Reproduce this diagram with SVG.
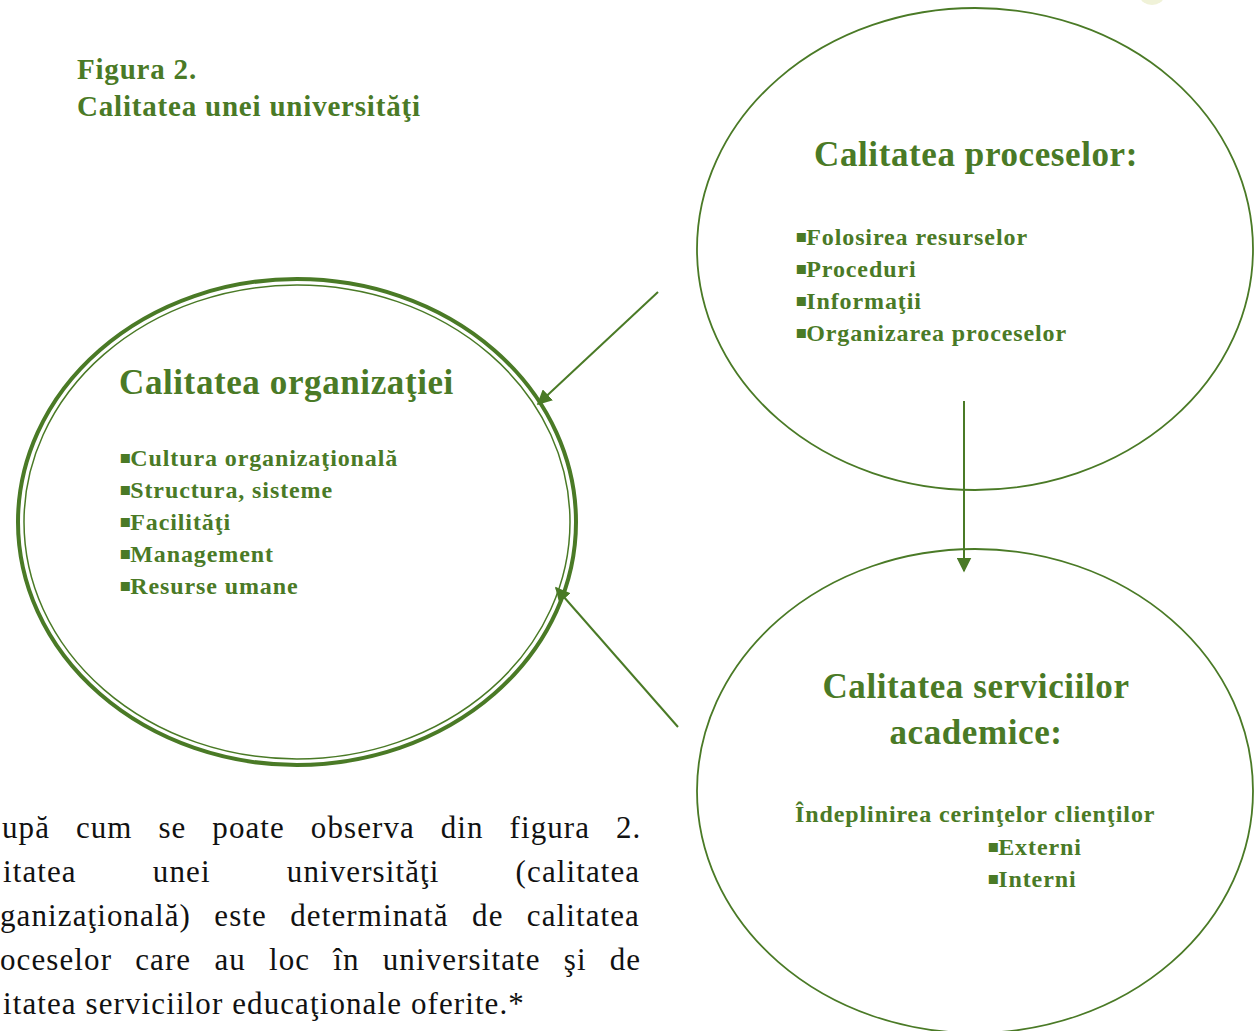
<svg xmlns="http://www.w3.org/2000/svg" width="1258" height="1031" viewBox="0 0 1258 1031">
<style>
.g{fill:#4a7a26;font-family:"Liberation Serif","DejaVu Serif",serif;font-weight:bold}
.h{font-size:35px;letter-spacing:0.6px}
.b{font-size:24px;letter-spacing:0.9px}
.t{font-size:29px;letter-spacing:0.8px}
.q{font-family:"DejaVu Sans",sans-serif;font-size:18px;letter-spacing:0;font-weight:normal}
.p{fill:#111;font-family:"Liberation Serif","DejaVu Serif",serif;font-size:31px;letter-spacing:1.1px}
.e{fill:none;stroke:#4a7a26}
.c{stroke:#4a7a26;stroke-width:2;fill:none}
</style>
<defs>
<marker id="ah" viewBox="0 0 10 10" refX="9" refY="5" markerWidth="7.5" markerHeight="7.5" orient="auto" markerUnits="strokeWidth">
<path d="M0,0 L10,5 L0,10 z" fill="#4a7a26"/>
</marker>
</defs>
<rect width="1258" height="1031" fill="#fff"/>
<ellipse cx="1152" cy="-4" rx="12" ry="9" fill="#f0f2d8"/>
<g id="title">
<text class="g t" x="77" y="79">Figura 2.</text>
<text class="g t" x="77" y="116">Calitatea unei universităţi</text>
</g>
<g id="node-organizatie">
<ellipse class="e" cx="297" cy="522" rx="279" ry="243" stroke-width="4"/>
<ellipse class="e" cx="297" cy="522" rx="273" ry="237" stroke-width="1.5"/>
<text class="g h" x="119" y="394">Calitatea organizaţiei</text>
<text class="g b" x="119" y="466"><tspan class="q" dy="-3">▪</tspan><tspan dx="-1" dy="3">Cultura organizaţională</tspan></text>
<text class="g b" x="119" y="498"><tspan class="q" dy="-3">▪</tspan><tspan dx="-1" dy="3">Structura, sisteme</tspan></text>
<text class="g b" x="119" y="530"><tspan class="q" dy="-3">▪</tspan><tspan dx="-1" dy="3">Facilităţi</tspan></text>
<text class="g b" x="119" y="562"><tspan class="q" dy="-3">▪</tspan><tspan dx="-1" dy="3">Management</tspan></text>
<text class="g b" x="119" y="594"><tspan class="q" dy="-3">▪</tspan><tspan dx="-1" dy="3">Resurse umane</tspan></text>
</g>
<g id="node-procese">
<ellipse class="e" cx="975" cy="249" rx="278" ry="241" stroke-width="1.8"/>
<text class="g h" x="976" y="166" text-anchor="middle">Calitatea proceselor:</text>
<text class="g b" x="795" y="245"><tspan class="q" dy="-3">▪</tspan><tspan dx="-1" dy="3">Folosirea resurselor</tspan></text>
<text class="g b" x="795" y="277"><tspan class="q" dy="-3">▪</tspan><tspan dx="-1" dy="3">Proceduri</tspan></text>
<text class="g b" x="795" y="309"><tspan class="q" dy="-3">▪</tspan><tspan dx="-1" dy="3">Informaţii</tspan></text>
<text class="g b" x="795" y="341"><tspan class="q" dy="-3">▪</tspan><tspan dx="-1" dy="3">Organizarea proceselor</tspan></text>
</g>
<g id="node-servicii">
<ellipse class="e" cx="975" cy="791" rx="278" ry="242" stroke-width="1.8"/>
<text class="g h" x="976" y="698" text-anchor="middle">Calitatea serviciilor</text>
<text class="g h" x="976" y="744" text-anchor="middle">academice:</text>
<text class="g b" x="795" y="822">Îndeplinirea cerinţelor clienţilor</text>
<text class="g b" x="987" y="855"><tspan class="q" dy="-3">▪</tspan><tspan dx="-1" dy="3">Externi</tspan></text>
<text class="g b" x="987" y="887"><tspan class="q" dy="-3">▪</tspan><tspan dx="-1" dy="3">Interni</tspan></text>
</g>
<g id="connectors">
<line class="c" x1="658" y1="292" x2="538" y2="404" marker-end="url(#ah)"/>
<line class="c" x1="678" y1="727" x2="556" y2="588" marker-end="url(#ah)"/>
<line class="c" x1="964" y1="401" x2="964" y2="571" marker-end="url(#ah)"/>
</g>
<g id="paragraph">
<text class="p" x="2" y="838" word-spacing="17">upă cum se poate observa din figura 2.</text>
<text class="p" x="3" y="882" word-spacing="67.3">itatea unei universităţi (calitatea</text>
<text class="p" x="0" y="926" word-spacing="14.5">ganizaţională) este determinată de calitatea</text>
<text class="p" x="0" y="970" word-spacing="14.3">oceselor care au loc în universitate şi de</text>
<text class="p" x="3" y="1014">itatea serviciilor educaţionale oferite.*</text>
</g>
</svg>
